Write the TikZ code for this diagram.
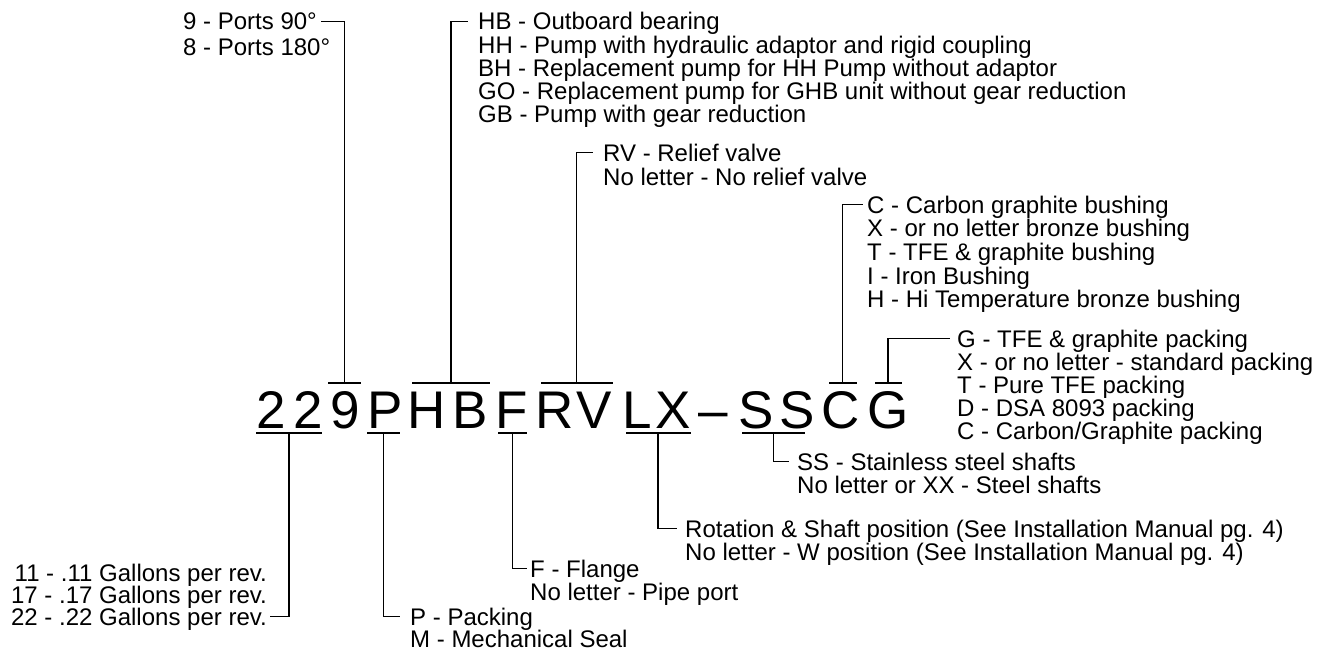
\documentclass[tikz,border=0pt]{standalone}
\usepackage{fontspec}
\setmainfont{Liberation Sans}
\begin{document}
\begin{tikzpicture}[x=1pt,y=-1pt,
  lbl/.style={font=\fontsize{24}{24}\selectfont, inner sep=0pt, text height=17pt, text depth=0pt},
  lw/.style={lbl, anchor=base west},
  le/.style={lbl, anchor=base east},
  code/.style={font=\fontsize{53}{53}\selectfont, inner sep=0pt, anchor=base},
  bar/.style={fill=black, inner sep=0pt, minimum height=1.8pt},
  conn/.style={line width=1.6pt}]
\useasboundingbox (0,0) rectangle (1318,653);

% code letters
\foreach \ch/\xx/\nm in {2/271/c1, 2/308/c2, 9/345/c3, P/385/c4, H/427/c5, B/470/c6, F/512/c7, R/555/c8, V/594/c9, L/637/c10, X/673/c11, {\textendash}/713/c12, S/756/c13, S/797/c14, C/841/c15, G/888/c16}
  \node[code] (\nm) at (\xx,428) {\ch};

% overlines
\node[bar, minimum width=33pt] (o9) at (344.5,383) {};
\node[bar, minimum width=78pt] (oHB) at (451,383) {};
\node[bar, minimum width=72pt] (oRV) at (576.5,383) {};
\node[bar, minimum width=28pt] (oC) at (842.5,383) {};
\node[bar, minimum width=27pt] (oG) at (888,383) {};
% underlines
\node[bar, minimum width=66pt] (u22) at (289,433) {};
\node[bar, minimum width=33pt] (uP) at (383.5,433) {};
\node[bar, minimum width=29pt] (uF) at (512.5,433) {};
\node[bar, minimum width=65pt] (uLX) at (658,433) {};
\node[bar, minimum width=63pt] (uSS) at (773.5,433) {};

% texts top
\node[lw] (t9a) at (183,30) {9 - Ports 90°};
\node[lw] (t9b) at (183,55) {8 - Ports 180°};

\node[lw] (tHBa) at (478,30) {HB - Outboard bearing};
\node[lw] (tHBb) at (478,53) {HH - Pump with hydraulic adaptor and rigid coupling};
\node[lw] (tHBc) at (478,76) {BH - Replacement pump for HH Pump without adaptor};
\node[lw] (tHBd) at (478,99) {GO - Replacement pump for GHB unit without gear reduction};
\node[lw] (tHBe) at (478,122) {GB - Pump with gear reduction};

\node[lw] (tRVa) at (603,161) {RV - Relief valve};
\node[lw] (tRVb) at (603,185) {No letter - No relief valve};

\node[lw] (tCa) at (867,213) {C - Carbon graphite bushing};
\node[lw] (tCb) at (867,236) {X - or no letter bronze bushing};
\node[lw] (tCc) at (867,260) {T - TFE \& graphite bushing};
\node[lw] (tCd) at (867,284) {I - Iron Bushing};
\node[lw] (tCe) at (867,307) {H - Hi Temperature bronze bushing};

\node[lw] (tGa) at (957,347) {G - TFE \& graphite packing};
\node[lw] (tGb) at (957,370) {X - or no letter - standard packing};
\node[lw] (tGc) at (957,393) {T - Pure TFE packing};
\node[lw] (tGd) at (957,416) {D - DSA 8093 packing};
\node[lw] (tGe) at (957,439) {C - Carbon/Graphite packing};

% texts bottom
\node[lw] (tSSa) at (797,470) {SS - Stainless steel shafts};
\node[lw] (tSSb) at (797,493) {No letter or XX - Steel shafts};

\node[lw] (tLXa) at (685,537) {Rotation \& Shaft position (See Installation Manual pg. 4)};
\node[lw] (tLXb) at (685,560) {No letter - W position (See Installation Manual pg. 4)};

\node[lw] (tFa) at (530,577) {F - Flange};
\node[lw] (tFb) at (530,600) {No letter - Pipe port};

\node[le] (t22a) at (267,581) {11 - .11 Gallons per rev.};
\node[le] (t22b) at (267,603) {17 - .17 Gallons per rev.};
\node[le] (t22c) at (267,625) {22 - .22 Gallons per rev.};

\node[lw] (tPa) at (410,625) {P - Packing};
\node[lw] (tPb) at (410,647) {M - Mechanical Seal};

% connectors
\draw[conn] (o9.north) |- ([xshift=4pt]t9a.east);
\draw[conn] (oHB.north) |- ([xshift=-10pt]tHBa.west);
\draw[conn] (oRV.north) |- ([xshift=-10pt]tRVa.west);
\draw[conn] (oC.north) |- ([xshift=-4pt]tCa.west);
\draw[conn] (oG.north) |- ([xshift=-7pt]tGa.west);
\draw[conn] (u22.south) |- ([xshift=3pt]t22c.east);
\draw[conn] (uP.south) |- ([xshift=-10pt]tPa.west);
\draw[conn] (uF.south) |- ([xshift=-3pt]tFa.west);
\draw[conn] (uLX.south) |- ([xshift=-8pt]tLXa.west);
\draw[conn] (uSS.south) |- ([xshift=-8pt]tSSa.west);
\end{tikzpicture}
\end{document}
